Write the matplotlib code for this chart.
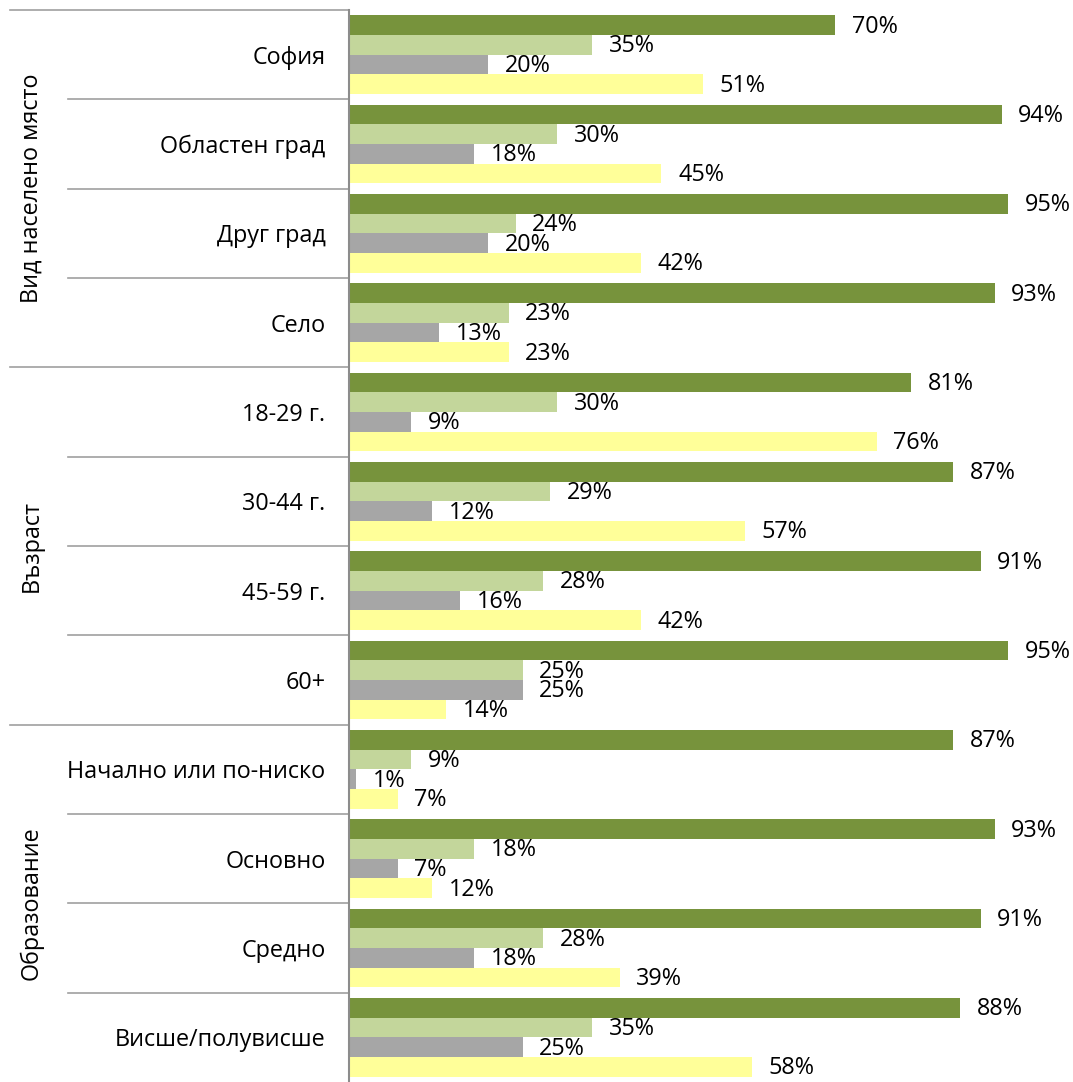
import numpy as np
from matplotlib import pyplot as plt

plt.rcParams['font.family'] = ['Open Sans', 'DejaVu Sans']

categories = ['София', 'Областен град', 'Друг град', 'Село',
              '18-29 г.', '30-44 г.', '45-59 г.', '60+',
              'Начално или по-ниско', 'Основно', 'Средно', 'Висше/полувисше']
groups = ['Вид населено място', 'Възраст', 'Образование']

s1 = [70, 94, 95, 93, 81, 87, 91, 95, 87, 93, 91, 88]
s2 = [35, 30, 24, 23, 30, 29, 28, 25, 9, 18, 28, 35]
s3 = [20, 18, 20, 13, 9, 12, 16, 25, 1, 7, 18, 25]
s4 = [51, 45, 42, 23, 76, 57, 42, 14, 7, 12, 39, 58]

colors = ['#77933C', '#C3D69B', '#A6A6A6', '#FFFF99']
series = [s1, s2, s3, s4]

fig = plt.figure(figsize=(10.73, 10.82), dpi=100)
ax = fig.add_axes([349 / 1073, 0, 724 / 1073, 1 - 10 / 1082])

y = np.arange(len(categories))
h = 0.22
offsets = [-1.5 * h, -0.5 * h, 0.5 * h, 1.5 * h]
fs = 16.8

for vals, col, off in zip(series, colors, offsets):
    bars = ax.barh(y + off, vals, height=h, color=col)
    for b, v in zip(bars, vals):
        ax.annotate(f'{v}%', (b.get_width(), b.get_y() + b.get_height() / 2),
                    xytext=(12, -1), textcoords='offset points',
                    ha='left', va='center', fontsize=fs)

ax.set_xlim(0, 104.3)
ax.set_ylim(len(categories) - 0.5, -0.5)
ax.set_xticks([])
ax.set_yticks(y)
ax.set_yticklabels(categories, fontsize=fs)
ax.tick_params(axis='y', length=0, pad=17)

for sp in ['top', 'right', 'bottom']:
    ax.spines[sp].set_visible(False)
ax.spines['left'].set_color('#8c8c8c')
ax.spines['left'].set_linewidth(1.5)

# separators between categories / groups
tr = ax.get_yaxis_transform()
for i in range(len(categories)):
    yy = i - 0.5
    x0 = -0.468 if i % 4 == 0 else -0.388
    ax.plot([x0, 0], [yy, yy], transform=tr, color='#a0a0a0',
            lw=1.2, clip_on=False)

for gi, g in enumerate(groups):
    ax.text(-0.438, gi * 4 + 1.5, g, transform=tr, rotation=90,
            ha='center', va='center', fontsize=fs)

fig.savefig('out.png', dpi=100)
